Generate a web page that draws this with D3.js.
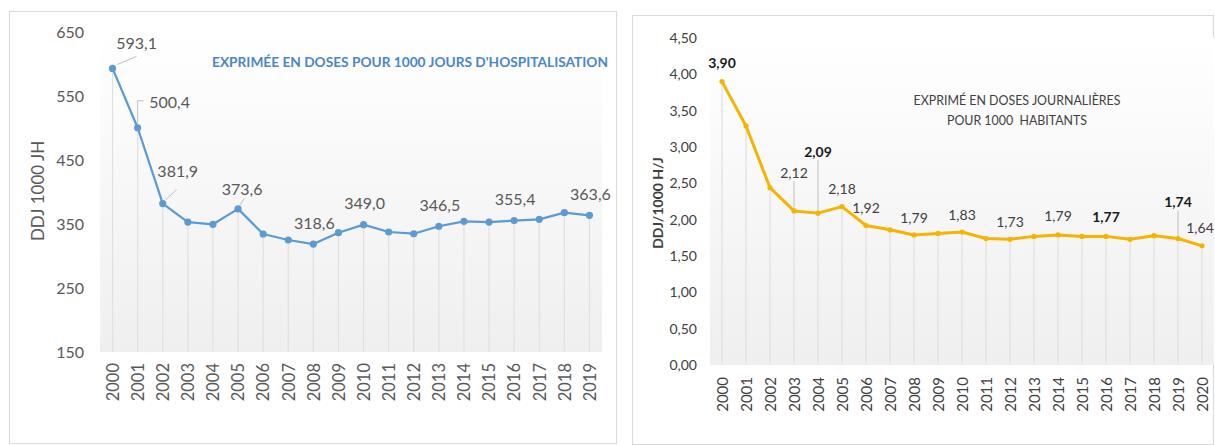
<!DOCTYPE html>
<html><head><meta charset="utf-8">
<script src="https://cdn.jsdelivr.net/npm/d3@7"></script>
<style>
html,body{margin:0;padding:0;background:#fff;}
svg{display:block;font-family:Lato,"Open Sans",sans-serif;}
</style></head>
<body>
<svg id="c" width="1215" height="445"></svg>
<script>
// ---- Left chart data ----
const yearsLeft = d3.range(2000, 2020).map(String);
const valuesLeft = [593.1, 500.4, 381.9, 353.0, 349.5, 373.6, 334.4, 325.0, 318.6, 336.4,
                    349.0, 337.5, 334.8, 346.5, 354.2, 353.0, 355.4, 357.3, 367.7, 363.6];
const labeledLeft = ["2000","2001","2002","2005","2008","2010","2013","2016","2019"];
const ticksLeft = [150, 250, 350, 450, 550, 650];
const titleLeft = "EXPRIMÉE EN DOSES POUR 1000 JOURS D'HOSPITALISATION";
const yLabelLeft = "DDJ 1000 JH";

// ---- Right chart data ----
const yearsRight = d3.range(2000, 2021).map(String);
const valuesRight = [3.90, 3.29, 2.44, 2.12, 2.09, 2.18, 1.92, 1.86, 1.79, 1.81,
                     1.83, 1.74, 1.73, 1.77, 1.79, 1.77, 1.77, 1.73, 1.78, 1.74, 1.64];
const labeledRight = ["2000","2003","2004","2005","2006","2008","2010","2012","2014","2016","2019","2020"];
const boldRight = ["2000","2004","2016","2019"];
const ticksRight = [0, 0.5, 1, 1.5, 2, 2.5, 3, 3.5, 4, 4.5];
const titleRight = ["EXPRIMÉ EN DOSES JOURNALIÈRES", "POUR 1000  HABITANTS"];
const yLabelRight = "DDJ/1000 H/J";

const svg = d3.select("#c");
const defs = svg.append("defs");
const grad = defs.append("linearGradient").attr("id","bg").attr("x1",0).attr("y1",0).attr("x2",0).attr("y2",1);
grad.append("stop").attr("offset","0%").attr("stop-color","#ffffff");
grad.append("stop").attr("offset","100%").attr("stop-color","#efefef");

const fmt1 = v => d3.format(".1f")(v).replace(".", ",");
const fmt2 = v => d3.format(".2f")(v).replace(".", ",");

// Panel borders
svg.append("rect").attr("x",9.5).attr("y",11.5).attr("width",607).attr("height",432)
  .attr("fill","#fff").attr("stroke","#d9d9d9");
svg.append("rect").attr("x",632.5).attr("y",15.5).attr("width",581).attr("height",429)
  .attr("fill","#fff").attr("stroke","#d9d9d9");

// ================= LEFT =================
{
  const x = d3.scalePoint().domain(yearsLeft).range([100, 602]).padding(0.5);
  const y = d3.scaleLinear().domain([150, 650]).range([352, 32]);
  const g = svg.append("g");
  g.append("rect").attr("x",100).attr("y",32).attr("width",502).attr("height",320).attr("fill","url(#bg)");
  g.selectAll("line.drop").data(yearsLeft).join("line")
    .attr("x1", d => x(d)).attr("x2", d => x(d))
    .attr("y1", (d,i) => y(valuesLeft[i])).attr("y2", 352)
    .attr("stroke","#e0e0e0").attr("stroke-width",1.2);
  const ya = g.append("g").attr("transform","translate(84,0)")
    .call(d3.axisLeft(y).tickValues(ticksLeft).tickSize(0).tickPadding(0));
  ya.select(".domain").remove();
  ya.selectAll("text").attr("font-size",16).attr("fill","#595959").attr("font-family","Lato");
  const xa = g.append("g").attr("transform","translate(0,352)")
    .call(d3.axisBottom(x).tickSize(0));
  xa.select(".domain").remove();
  xa.selectAll("text").attr("font-size",16.5).attr("fill","#595959").attr("font-family","Lato")
    .attr("transform","rotate(-90)").attr("text-anchor","end").attr("x",-11).attr("y",0).attr("dy","0.35em");
  const line = d3.line().x((d,i) => x(yearsLeft[i])).y(d => y(d));
  g.append("path").datum(valuesLeft).attr("d", line).attr("fill","none")
    .attr("stroke","#5b9bd5").attr("stroke-width",2.25).attr("stroke-linejoin","round");
  g.selectAll("circle").data(valuesLeft).join("circle")
    .attr("cx",(d,i)=>x(yearsLeft[i])).attr("cy",d=>y(d)).attr("r",3.6).attr("fill","#5b9bd5");
  const off = {"2000":[24,-25],"2001":[32,-25],"2002":[15,-32],"2005":[4,-19]};
  labeledLeft.forEach(yr => {
    const i = yearsLeft.indexOf(yr), px = x(yr), py = y(valuesLeft[i]);
    const o = off[yr] || [1,-21];
    g.append("text").attr("x", px+o[0]).attr("y", py+o[1]).attr("dy","0.35em")
      .attr("text-anchor","middle").attr("font-size",16).attr("fill","#595959").text(fmt1(valuesLeft[i]));
  });
  const p0 = [x("2000"), y(valuesLeft[0])];
  g.append("line").attr("x1",p0[0]+5).attr("y1",p0[1]-4).attr("x2",p0[0]+24).attr("y2",p0[1]-12).attr("stroke","#bfbfbf");
  const p1 = [x("2001"), y(valuesLeft[1])];
  g.append("path").attr("d",`M${p1[0]},${p1[1]-4}V${p1[1]-27}h6`).attr("fill","none").attr("stroke","#bfbfbf");
  const p2 = [x("2002"), y(valuesLeft[2])];
  g.append("line").attr("x1",p2[0]+3).attr("y1",p2[1]-4).attr("x2",p2[0]+14).attr("y2",p2[1]-14).attr("stroke","#bfbfbf");
  const p5 = [x("2005"), y(valuesLeft[5])];
  g.append("line").attr("x1",p5[0]+2).attr("y1",p5[1]-4).attr("x2",p5[0]+6).attr("y2",p5[1]-10).attr("stroke","#bfbfbf");
  g.append("text").attr("x",212).attr("y",62).attr("dy","0.35em").attr("font-size",14).attr("font-weight","bold")
    .attr("fill","#4a86c8").attr("textLength",396).attr("lengthAdjust","spacingAndGlyphs").text(titleLeft);
  g.append("text").attr("transform","translate(38,191) rotate(-90)").attr("text-anchor","middle").attr("dy","0.35em")
    .attr("font-size",17).attr("fill","#595959").text(yLabelLeft);
}

// ================= RIGHT =================
{
  const x = d3.scalePoint().domain(yearsRight).range([710, 1214]).padding(0.5);
  const y = d3.scaleLinear().domain([0, 4.5]).range([365, 38]);
  const g = svg.append("g");
  g.append("rect").attr("x",710).attr("y",38).attr("width",504).attr("height",327).attr("fill","url(#bg)");
  g.selectAll("line.drop").data(yearsRight).join("line")
    .attr("x1", d => x(d)).attr("x2", d => x(d))
    .attr("y1", (d,i) => y(valuesRight[i])).attr("y2", 365)
    .attr("stroke","#e0e0e0").attr("stroke-width",1.2);
  const ya = g.append("g").attr("transform","translate(697,0)")
    .call(d3.axisLeft(y).tickValues(ticksRight).tickSize(0).tickPadding(0).tickFormat(fmt2));
  ya.select(".domain").remove();
  ya.selectAll("text").attr("font-size",14).attr("fill","#404040").attr("font-family","Lato");
  const xa = g.append("g").attr("transform","translate(0,365)")
    .call(d3.axisBottom(x).tickSize(0));
  xa.select(".domain").remove();
  xa.selectAll("text").attr("font-size",15).attr("fill","#404040").attr("font-family","Lato")
    .attr("transform","rotate(-90)").attr("text-anchor","end").attr("x",-12).attr("y",0).attr("dy","0.35em");
  [["2003",-30],["2004",-53],["2019",-28]].forEach(([yr,dy]) => {
    const i = yearsRight.indexOf(yr);
    g.append("line").attr("x1",x(yr)).attr("x2",x(yr)).attr("y1",y(valuesRight[i])).attr("y2",y(valuesRight[i])+dy)
      .attr("stroke","#bfbfbf");
  });
  const line = d3.line().x((d,i) => x(yearsRight[i])).y(d => y(d));
  g.append("path").datum(valuesRight).attr("d", line).attr("fill","none")
    .attr("stroke","#f4b400").attr("stroke-width",3).attr("stroke-linejoin","round");
  g.selectAll("circle").data(valuesRight).join("circle")
    .attr("cx",(d,i)=>x(yearsRight[i])).attr("cy",d=>y(d)).attr("r",2.6).attr("fill","#f4b400");
  const off = {"2000":[0,-19],"2003":[0,-38],"2004":[0,-61],"2019":[0,-36],"2020":[-2,-18],"2014":[0,-19],"2016":[0,-19]};
  labeledRight.forEach(yr => {
    const i = yearsRight.indexOf(yr), px = x(yr), py = y(valuesRight[i]);
    const o = off[yr] || [0,-17];
    const b = boldRight.includes(yr);
    g.append("text").attr("x", px+o[0]).attr("y", py+o[1]).attr("dy","0.35em")
      .attr("text-anchor","middle").attr("font-size",14).attr("font-weight", b ? "bold" : "normal")
      .attr("fill", b ? "#1a1a1a" : "#404040").text(fmt2(valuesRight[i]));
  });
  g.append("text").attr("x",1017).attr("y",100).attr("dy","0.35em").attr("text-anchor","middle")
    .attr("font-size",14).attr("fill","#404040").attr("textLength",207).attr("lengthAdjust","spacingAndGlyphs").text(titleRight[0]);
  g.append("text").attr("x",1017).attr("y",120).attr("dy","0.35em").attr("text-anchor","middle")
    .attr("font-size",14).attr("fill","#404040").attr("textLength",140).attr("lengthAdjust","spacingAndGlyphs")
    .attr("xml:space","preserve").style("white-space","pre").text(titleRight[1]);
  g.append("text").attr("transform","translate(658,203) rotate(-90)").attr("text-anchor","middle").attr("dy","0.35em")
    .attr("font-size",14).attr("font-weight","bold").attr("fill","#404040").text(yLabelRight);
}
</script>
</body></html>
